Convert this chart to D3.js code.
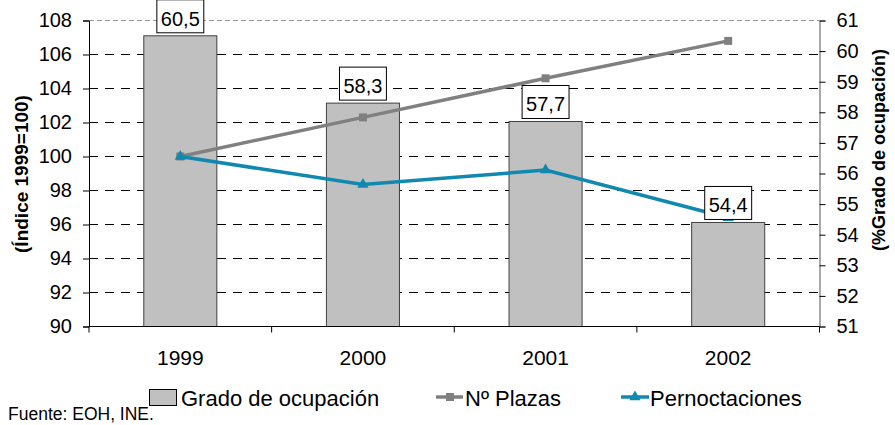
<!DOCTYPE html>
<html><head><meta charset="utf-8">
<script src="https://cdn.jsdelivr.net/npm/d3@7"></script>
<style>body{margin:0;background:#fff}svg{display:block;font-family:"Liberation Sans",Arial,sans-serif}</style>
</head><body><svg id="c" width="895" height="425"></svg>
<script>
const categories = ["1999","2000","2001","2002"];
const grado = [60.5, 58.3, 57.7, 54.4];
const gradoLabels = ["60,5","58,3","57,7","54,4"];
const plazas = [100, 102.3, 104.6, 106.8];
const pernoctaciones = [100, 98.35, 99.2, 96.4];
const leftTicks = [90,92,94,96,98,100,102,104,106,108];
const rightTicks = [51,52,53,54,55,56,57,58,59,60,61];

const svg = d3.select("#c");
const L = 89, R = 819.5, T = 20.5, B = 326.5;
const x = d3.scaleBand().domain(categories).range([L, R]).padding(0);
const yL = d3.scaleLinear().domain([90,108]).range([B, T]);
const yR = d3.scaleLinear().domain([51,61]).range([B, T]);
const barW = x.bandwidth()*0.4;

// gridlines
svg.append("g").selectAll("line").data(leftTicks.filter(d=>d>90)).join("line")
  .attr("x1", L).attr("x2", R).attr("y1", d=>yL(d)).attr("y2", d=>yL(d))
  .attr("stroke", d=> d===108 ? "#999" : "#000").attr("stroke-width",1)
  .attr("stroke-dasharray", d=> d===108 ? "5,3" : "9,7");

// bars
svg.append("g").selectAll("rect").data(grado).join("rect")
  .attr("x", (d,i)=> x(categories[i]) + x.bandwidth()/2 - barW/2)
  .attr("y", d=> yR(d)).attr("width", barW).attr("height", d=> B - yR(d))
  .attr("fill", "#C0C0C0").attr("stroke", "#404040").attr("stroke-width", 1);

// axes
const axL = svg.append("g").attr("transform", `translate(${L},0)`)
  .call(d3.axisLeft(yL).tickValues(leftTicks).tickSize(6).tickPadding(11).tickFormat(d3.format("d")));
const axR = svg.append("g").attr("transform", `translate(${R},0)`)
  .call(d3.axisRight(yR).tickValues(rightTicks).tickSize(6).tickPadding(11).tickFormat(d3.format("d")));
[axL, axR].forEach(a=>{
  a.select(".domain").attr("stroke","#000");
  a.selectAll(".tick line").attr("stroke","#000");
  a.selectAll("text").attr("font-size", 20).attr("fill","#000").attr("font-family","Liberation Sans, Arial, sans-serif");
});
axR.select(".domain").attr("stroke","#555");
// bottom axis
svg.append("line").attr("x1",L).attr("x2",R).attr("y1",B).attr("y2",B).attr("stroke","#000");
const bounds = categories.map(c=>x(c)).concat([R]);
svg.append("g").selectAll("line").data(bounds).join("line")
  .attr("x1",d=>d).attr("x2",d=>d).attr("y1",B).attr("y2",B+6).attr("stroke","#000");
svg.append("g").selectAll("text").data(categories).join("text")
  .attr("x", d=> x(d)+x.bandwidth()/2).attr("y", B+38).attr("text-anchor","middle")
  .attr("font-size", 21).text(d=>d);

// lines
const lineL = d3.line().x((d,i)=> x(categories[i])+x.bandwidth()/2).y(d=> yL(d));
svg.append("path").datum(plazas).attr("d", lineL).attr("fill","none").attr("stroke","#808080").attr("stroke-width",3.5);
svg.append("g").selectAll("rect").data(plazas).join("rect")
  .attr("x",(d,i)=> x(categories[i])+x.bandwidth()/2-4).attr("y", d=> yL(d)-4)
  .attr("width",8).attr("height",8).attr("fill","#808080");
svg.append("path").datum(pernoctaciones).attr("d", lineL).attr("fill","none").attr("stroke","#1088B0").attr("stroke-width",3.5);
const tri = d3.symbol().type(d3.symbolTriangle).size(55);
svg.append("g").selectAll("path").data(pernoctaciones).join("path")
  .attr("transform",(d,i)=>`translate(${x(categories[i])+x.bandwidth()/2},${yL(d)})`)
  .attr("d", tri()).attr("fill","#1088B0");

// data labels
const lg = svg.append("g");
grado.forEach((d,i)=>{
  const cx = x(categories[i])+x.bandwidth()/2;
  const g = lg.append("g");
  const r = g.append("rect");
  const t = g.append("text").attr("x",cx).attr("y", yR(d)-10).attr("text-anchor","middle")
    .attr("font-size",20).text(gradoLabels[i]);
  const w = t.node().getComputedTextLength()+8;
  r.attr("x", cx-w/2).attr("y", yR(d)-36).attr("width", w).attr("height", 33)
    .attr("fill","#fff").attr("stroke","#000").attr("stroke-width",1);
});

// axis titles
svg.append("text").attr("transform","translate(28,174) rotate(-90)").attr("text-anchor","middle")
  .attr("font-size",19).attr("font-weight","bold").text("(Índice 1999=100)");
svg.append("text").attr("transform","translate(885,150) rotate(-90)").attr("text-anchor","middle")
  .attr("font-size",18).attr("font-weight","bold").text("(%Grado de ocupación)");

// legend
const leg = svg.append("g");
leg.append("rect").attr("x",149.5).attr("y",389.5).attr("width",27).attr("height",16).attr("fill","#C0C0C0").attr("stroke","#000");
leg.append("text").attr("x",181).attr("y",406).attr("font-size",22).text("Grado de ocupación");
leg.append("line").attr("x1",436).attr("x2",463).attr("y1",397).attr("y2",397).attr("stroke","#808080").attr("stroke-width",3.5);
leg.append("rect").attr("x",446).attr("y",393).attr("width",8).attr("height",8).attr("fill","#808080");
leg.append("text").attr("x",465).attr("y",406).attr("font-size",22).text("Nº Plazas");
leg.append("line").attr("x1",621).attr("x2",649).attr("y1",397).attr("y2",397).attr("stroke","#1088B0").attr("stroke-width",3.5);
leg.append("path").attr("transform","translate(635,397)").attr("d",tri()).attr("fill","#1088B0");
leg.append("text").attr("x",650).attr("y",406).attr("font-size",22).text("Pernoctaciones");

svg.append("text").attr("x",8).attr("y",420).attr("font-size",17.5).text("Fuente: EOH, INE.");
</script></body></html>
